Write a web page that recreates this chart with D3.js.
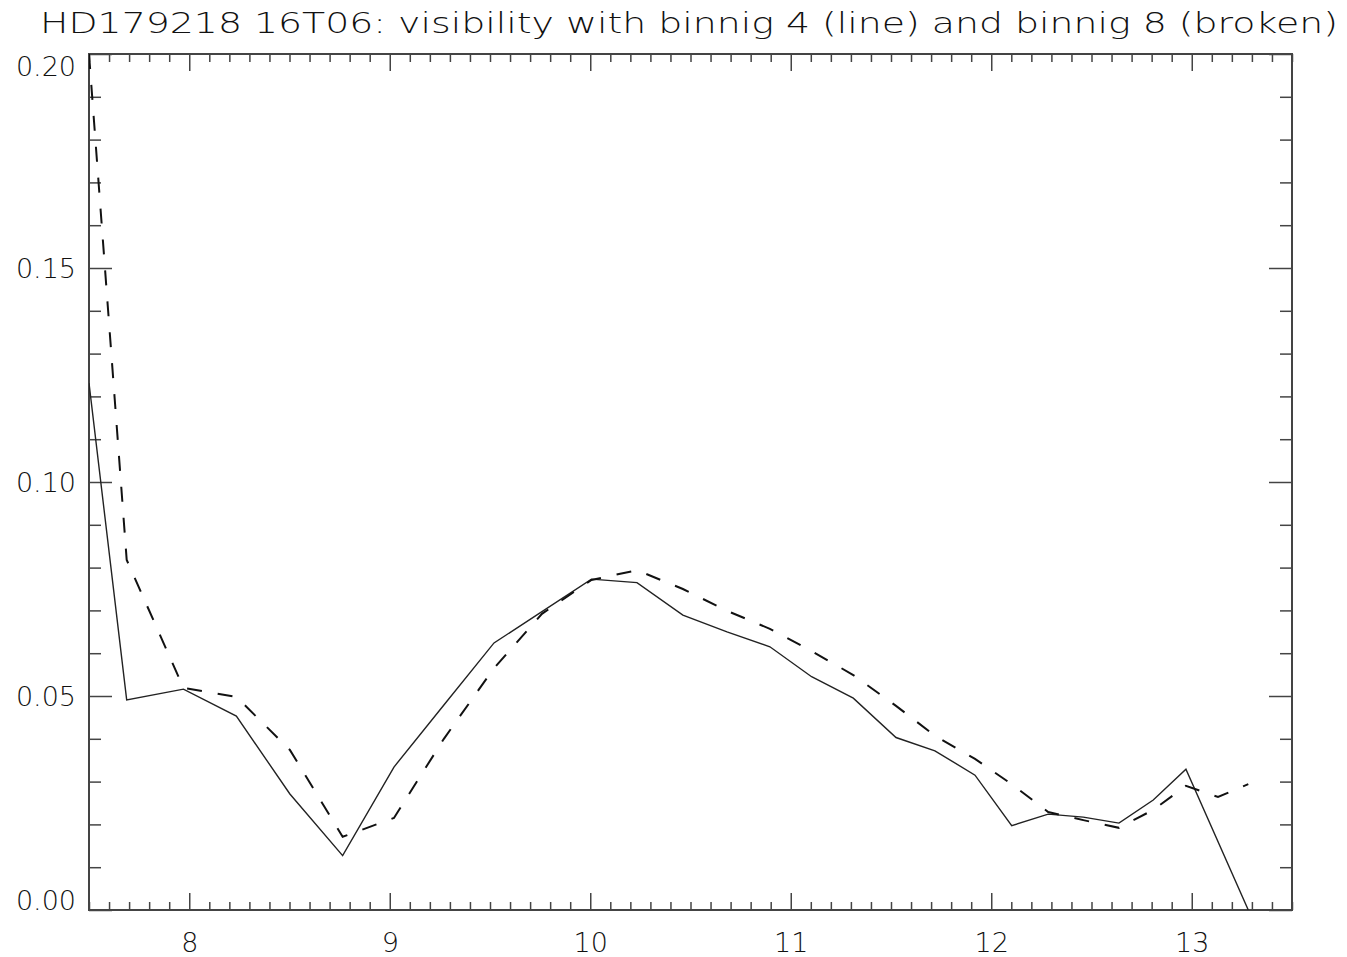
<!DOCTYPE html>
<html>
<head>
<meta charset="utf-8">
<script src="https://cdn.jsdelivr.net/npm/d3@7"></script>
<style>
  body { margin: 0; background: #fff; }
  text { font-family: "DejaVu Sans", sans-serif; font-weight: 200; fill: #111; }
</style>
</head>
<body>
<script>
// binning 4 (solid line)
var wave4 = [7.500, 7.688, 7.971, 8.235, 8.502, 8.765, 9.021, 9.270, 9.520, 9.759,
             10.006, 10.233, 10.462, 10.682, 10.896, 11.104, 11.312, 11.525, 11.719,
             11.919, 12.102, 12.284, 12.459, 12.637, 12.808, 12.971, 13.282];
var vis4 = [0.1231, 0.0491, 0.0516, 0.0453, 0.0271, 0.0127, 0.0334, 0.0479, 0.0624, 0.0697,
            0.0773, 0.0765, 0.0689, 0.0650, 0.0615, 0.0545, 0.0495, 0.0403, 0.0372,
            0.0315, 0.0197, 0.0224, 0.0217, 0.0203, 0.0257, 0.0329, 0.0];

// binning 8 (broken line)
var wave8 = [7.500, 7.688, 7.971, 8.235, 8.502, 8.765, 9.021, 9.270, 9.520, 9.759,
             10.006, 10.233, 10.462, 10.682, 10.896, 11.104, 11.312, 11.525, 11.719,
             11.919, 12.102, 12.284, 12.459, 12.637, 12.808, 12.971, 13.131, 13.282];
var vis8 = [0.200, 0.0818, 0.0519, 0.0498, 0.0374, 0.0171, 0.0215, 0.0400, 0.0565, 0.0692,
            0.0771, 0.0794, 0.0750, 0.0699, 0.0657, 0.0605, 0.0549, 0.0477, 0.0407,
            0.0353, 0.0294, 0.0229, 0.0210, 0.0192, 0.0234, 0.0290, 0.0264, 0.0294];

var xMajor = [8, 9, 10, 11, 12, 13];
var yMajor = [0, 0.05, 0.10, 0.15, 0.20];
var yLabels = ["0.00", "0.05", "0.10", "0.15", "0.20"];

var title = "HD179218 16T06: visibility with binnig 4 (line) and binnig 8 (broken)";

var W = 1347, H = 957;
var plotLeft = 89, plotRight = 1292, plotTop = 54, plotBottom = 910;

var x = d3.scaleLinear().domain([7.5, 13.5]).range([plotLeft, plotRight]);
var y = d3.scaleLinear().domain([0, 0.2]).range([plotBottom, plotTop]);

var xMinor = d3.range(75, 136).map(function(d) { return d / 10; })
    .filter(function(d) { return xMajor.indexOf(d) < 0; });
var yMinor = d3.range(0, 21).filter(function(d) { return d % 5 !== 0; })
    .map(function(d) { return d / 100; });

var svg = d3.select("body").append("svg")
    .attr("width", W)
    .attr("height", H);

svg.append("text")
    .attr("x", 40)
    .attr("y", 33)
    .attr("font-size", 28)
    .attr("textLength", 1298)
    .attr("lengthAdjust", "spacingAndGlyphs")
    .text(title);

svg.append("clipPath").attr("id", "plotclip")
  .append("rect")
    .attr("x", plotLeft).attr("y", plotTop)
    .attr("width", plotRight - plotLeft).attr("height", plotBottom - plotTop);

function styleAxis(g) {
    g.select(".domain").remove();
    g.selectAll("line").attr("stroke", "#444").attr("stroke-width", 1.5);
}

// bottom axis
svg.append("g")
    .attr("transform", "translate(0," + plotBottom + ")")
    .call(d3.axisBottom(x).tickValues(xMajor).tickSize(-17).tickPadding(23).tickFormat(d3.format("d")))
    .call(styleAxis)
    .selectAll("text").attr("font-size", 27).attr("font-family", null);
svg.append("g")
    .attr("transform", "translate(0," + plotBottom + ")")
    .call(d3.axisBottom(x).tickValues(xMinor).tickSize(-8).tickFormat(""))
    .call(styleAxis);

// top axis
svg.append("g")
    .attr("transform", "translate(0," + plotTop + ")")
    .call(d3.axisTop(x).tickValues(xMajor).tickSize(-17).tickFormat(""))
    .call(styleAxis);
svg.append("g")
    .attr("transform", "translate(0," + plotTop + ")")
    .call(d3.axisTop(x).tickValues(xMinor).tickSize(-8).tickFormat(""))
    .call(styleAxis);

// left axis
var leftAxis = svg.append("g")
    .attr("transform", "translate(" + plotLeft + ",0)")
    .call(d3.axisLeft(y).tickValues(yMajor).tickSize(-23).tickPadding(13)
          .tickFormat(function(d, i) { return yLabels[i]; }))
    .call(styleAxis);
leftAxis.selectAll("text")
    .attr("font-size", 27).attr("font-family", null)
    .attr("dy", function(d) {
        // end labels sit inside the frame
        if (d === 0.2) return "0.8em";
        if (d === 0) return "-0.02em";
        return "0.36em";
    });
svg.append("g")
    .attr("transform", "translate(" + plotLeft + ",0)")
    .call(d3.axisLeft(y).tickValues(yMinor).tickSize(-12).tickFormat(""))
    .call(styleAxis);

// right axis
svg.append("g")
    .attr("transform", "translate(" + plotRight + ",0)")
    .call(d3.axisRight(y).tickValues(yMajor).tickSize(-23).tickFormat(""))
    .call(styleAxis);
svg.append("g")
    .attr("transform", "translate(" + plotRight + ",0)")
    .call(d3.axisRight(y).tickValues(yMinor).tickSize(-12).tickFormat(""))
    .call(styleAxis);

// frame
svg.append("rect")
    .attr("x", plotLeft).attr("y", plotTop)
    .attr("width", plotRight - plotLeft).attr("height", plotBottom - plotTop)
    .attr("fill", "none")
    .attr("stroke", "#444")
    .attr("stroke-width", 2);

var line = d3.line()
    .x(function(d) { return x(d[0]); })
    .y(function(d) { return y(d[1]); });

var plot = svg.append("g").attr("clip-path", "url(#plotclip)");

plot.append("path")
    .datum(d3.zip(wave4, vis4))
    .attr("d", line)
    .attr("fill", "none")
    .attr("stroke", "#222")
    .attr("stroke-width", 1.4);

plot.append("path")
    .datum(d3.zip(wave8, vis8))
    .attr("d", line)
    .attr("fill", "none")
    .attr("stroke", "#111")
    .attr("stroke-width", 2)
    .attr("stroke-dasharray", "15,16");
</script>
</body>
</html>
